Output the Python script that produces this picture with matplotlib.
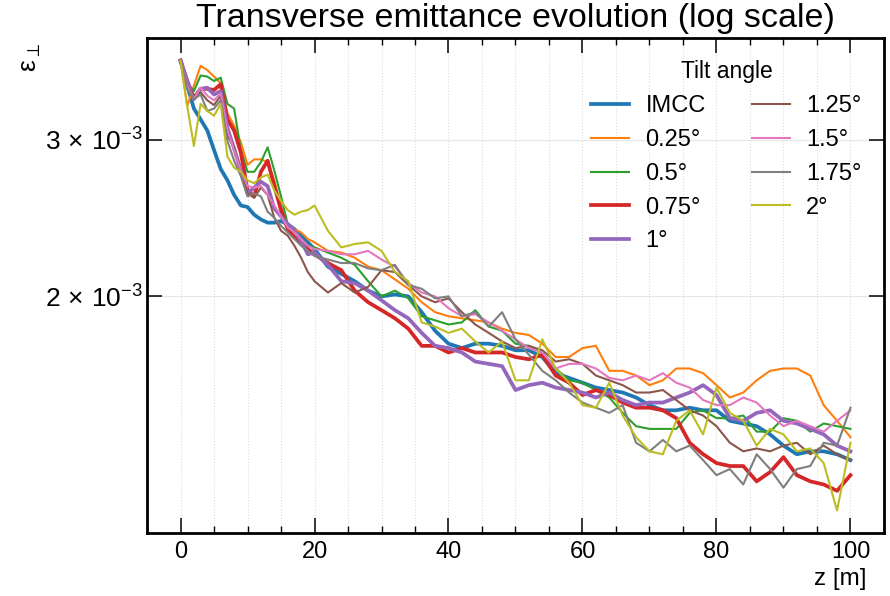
import numpy as np
import matplotlib
matplotlib.use('Agg')
import matplotlib.pyplot as plt
from matplotlib.ticker import FixedLocator, MultipleLocator, NullLocator

# z positions [m]: every metre up to 20, then every 2 m
z = list(range(0, 21)) + list(range(22, 101, 2))

# transverse emittance, in units of 1e-3
imcc = [3.68, 3.45, 3.25, 3.16, 3.07, 2.92, 2.78, 2.70, 2.60, 2.53, 2.52, 2.47, 2.44, 2.42, 2.42, 2.43, 2.41, 2.38, 2.34, 2.30, 2.26,
        2.16, 2.12, 2.08, 2.03, 2.00, 2.01, 2.00, 1.92, 1.83, 1.77,
        1.75, 1.77, 1.77, 1.76, 1.74, 1.74, 1.71, 1.64, 1.62, 1.60,
        1.58, 1.57, 1.56, 1.54, 1.51, 1.49, 1.49, 1.50, 1.49, 1.49,
        1.45, 1.44, 1.43, 1.40, 1.36, 1.33, 1.34, 1.34, 1.33, 1.31]
tilt_025 = [3.68, 3.27, 3.45, 3.63, 3.59, 3.53, 3.47, 3.21, 3.11, 2.98, 2.81, 2.85, 2.85, 2.83, 2.70, 2.52, 2.41, 2.38, 2.36, 2.32, 2.30,
            2.25, 2.24, 2.21, 2.16, 2.14, 2.09, 2.04, 1.97, 1.92, 1.90,
            1.89, 1.88, 1.87, 1.84, 1.82, 1.81, 1.77, 1.71, 1.71, 1.75,
            1.76, 1.65, 1.65, 1.63, 1.59, 1.61, 1.66, 1.66, 1.64, 1.59,
            1.54, 1.56, 1.61, 1.65, 1.66, 1.66, 1.63, 1.51, 1.45, 1.39]
tilt_05 = [3.68, 3.47, 3.40, 3.54, 3.53, 3.49, 3.52, 3.29, 3.25, 2.92, 2.76, 2.76, 2.83, 2.94, 2.77, 2.59, 2.41, 2.36, 2.32, 2.28, 2.27,
           2.24, 2.21, 2.17, 2.08, 2.00, 2.03, 1.99, 1.90, 1.88, 1.86,
           1.87, 1.93, 1.85, 1.83, 1.77, 1.76, 1.73, 1.66, 1.61, 1.60,
           1.57, 1.54, 1.48, 1.43, 1.42, 1.42, 1.42, 1.48, 1.49, 1.46,
           1.46, 1.47, 1.41, 1.41, 1.46, 1.45, 1.41, 1.44, 1.43, 1.42]
tilt_075 = [3.68, 3.49, 3.34, 3.42, 3.42, 3.41, 3.46, 3.16, 3.07, 2.90, 2.63, 2.59, 2.76, 2.84, 2.66, 2.50, 2.38, 2.33, 2.30, 2.26, 2.23,
            2.18, 2.14, 2.03, 1.97, 1.93, 1.89, 1.84, 1.76, 1.76, 1.73,
            1.75, 1.73, 1.73, 1.73, 1.71, 1.70, 1.72, 1.63, 1.60, 1.55,
            1.57, 1.55, 1.52, 1.50, 1.50, 1.49, 1.46, 1.37, 1.33, 1.30,
            1.29, 1.29, 1.24, 1.27, 1.32, 1.26, 1.24, 1.23, 1.21, 1.26]
tilt_1 = [3.68, 3.49, 3.33, 3.42, 3.43, 3.37, 3.40, 3.09, 2.93, 2.77, 2.61, 2.65, 2.69, 2.66, 2.51, 2.46, 2.41, 2.37, 2.31, 2.23, 2.24,
          2.17, 2.08, 2.07, 2.03, 1.98, 1.93, 1.89, 1.82, 1.76, 1.75,
          1.73, 1.69, 1.68, 1.67, 1.57, 1.59, 1.60, 1.58, 1.57, 1.56,
          1.54, 1.56, 1.53, 1.51, 1.52, 1.52, 1.54, 1.56, 1.59, 1.55,
          1.46, 1.45, 1.48, 1.49, 1.45, 1.44, 1.42, 1.40, 1.36, 1.34]
tilt_125 = [3.68, 3.45, 3.36, 3.39, 3.32, 3.28, 3.36, 3.03, 2.94, 2.77, 2.61, 2.58, 2.65, 2.60, 2.45, 2.37, 2.34, 2.28, 2.21, 2.13, 2.08,
            2.02, 2.07, 2.02, 2.05, 2.14, 2.13, 2.06, 2.00, 1.97, 1.99,
            1.92, 1.86, 1.82, 1.78, 1.75, 1.76, 1.74, 1.69, 1.70, 1.68,
            1.63, 1.61, 1.59, 1.56, 1.56, 1.57, 1.53, 1.49, 1.47, 1.43,
            1.37, 1.34, 1.35, 1.34, 1.36, 1.37, 1.33, 1.36, 1.33, 1.31]
tilt_15 = [3.68, 3.45, 3.33, 3.43, 3.36, 3.32, 3.38, 3.07, 2.92, 2.77, 2.66, 2.65, 2.66, 2.60, 2.53, 2.46, 2.39, 2.36, 2.32, 2.28, 2.26,
           2.25, 2.23, 2.23, 2.25, 2.20, 2.16, 2.07, 2.02, 2.00, 1.94,
           1.90, 1.91, 1.87, 1.83, 1.79, 1.75, 1.73, 1.66, 1.68, 1.68,
           1.66, 1.62, 1.61, 1.63, 1.61, 1.64, 1.60, 1.58, 1.53, 1.51,
           1.51, 1.54, 1.52, 1.47, 1.43, 1.45, 1.43, 1.41, 1.45, 1.49]
tilt_175 = [3.68, 3.42, 3.33, 3.37, 3.23, 3.25, 3.32, 2.99, 2.84, 2.73, 2.59, 2.61, 2.59, 2.49, 2.45, 2.40, 2.36, 2.32, 2.28, 2.25, 2.22,
            2.20, 2.18, 2.18, 2.15, 2.14, 2.17, 2.06, 2.04, 1.99, 2.00,
            1.90, 1.92, 1.85, 1.92, 1.79, 1.72, 1.65, 1.61, 1.56, 1.52,
            1.50, 1.48, 1.51, 1.37, 1.34, 1.38, 1.34, 1.36, 1.31, 1.26,
            1.28, 1.23, 1.33, 1.28, 1.22, 1.28, 1.29, 1.37, 1.36, 1.50]
tilt_2 = [3.68, 3.27, 2.95, 3.29, 3.23, 3.19, 3.29, 2.87, 2.79, 2.76, 2.70, 2.68, 2.72, 2.74, 2.63, 2.56, 2.50, 2.47, 2.49, 2.50, 2.53,
          2.37, 2.27, 2.29, 2.30, 2.25, 2.13, 2.08, 1.87, 1.85, 1.82,
          1.84, 1.78, 1.73, 1.78, 1.61, 1.61, 1.79, 1.66, 1.60, 1.51,
          1.50, 1.60, 1.47, 1.39, 1.34, 1.33, 1.45, 1.49, 1.40, 1.58,
          1.48, 1.45, 1.36, 1.42, 1.40, 1.34, 1.35, 1.30, 1.15, 1.37]

labels = ['IMCC', '0.25°', '0.5°', '0.75°', '1°', '1.25°', '1.5°', '1.75°', '2°']
values = [imcc, tilt_025, tilt_05, tilt_075, tilt_1, tilt_125, tilt_15, tilt_175, tilt_2]
colors = ['tab:blue', 'tab:orange', 'tab:green', 'tab:red', 'tab:purple',
          'tab:brown', 'tab:pink', 'tab:gray', 'tab:olive']
thick = ['IMCC', '0.75°', '1°']

plt.rcParams['font.family'] = ['Liberation Sans', 'DejaVu Sans']
plt.rcParams['mathtext.fontset'] = 'custom'
plt.rcParams['mathtext.rm'] = 'Liberation Sans'
plt.rcParams['mathtext.it'] = 'Liberation Sans'
plt.rcParams['mathtext.default'] = 'regular'

fig = plt.figure(figsize=(8.9, 5.96), dpi=100)
ax = fig.add_axes([0.1652, 0.1057, 0.828, 0.8305])

for lab, vals, col in zip(labels, values, colors):
    lw = 2.7 if lab in thick else 1.5
    ax.plot(z, np.array(vals) * 1e-3, color=col, lw=lw, label=lab)

ax.set_yscale('log')
ax.set_xlim(-5, 105)
ax.set_ylim(1.085e-3, 3.9e-3)

ax.xaxis.set_major_locator(MultipleLocator(20))
ax.xaxis.set_minor_locator(MultipleLocator(5))
ax.yaxis.set_major_locator(FixedLocator([2e-3, 3e-3]))
ax.yaxis.set_minor_locator(NullLocator())
ax.set_yticklabels([r'$2\,\times\,10^{-3}$', r'$3\,\times\,10^{-3}$'])

ax.tick_params(which='both', direction='in', top=True, right=True)
ax.tick_params(which='major', length=11, width=1.1)
ax.tick_params(which='minor', length=5, width=1.0)
ax.tick_params(axis='x', labelsize=17, pad=6)
ax.tick_params(axis='y', labelsize=19, pad=3)
for sp in ax.spines.values():
    sp.set_linewidth(2.0)

ax.grid(True, which='both', axis='x', color='#dcdcdc', linestyle=':', linewidth=0.8)
ax.grid(True, which='major', axis='y', color='#e6e6e6', linestyle='-', linewidth=0.8)

ax.set_title('Transverse emittance evolution (log scale)', fontsize=24.5, pad=8)
ax.set_xlabel('z [m]', fontsize=17.5)
ax.xaxis.set_label_coords(0.976, -0.07)
ax.xaxis.label.set_ha('right')
ax.set_ylabel(r'$\epsilon_{\perp}$', fontsize=19)
ax.yaxis.set_label_coords(-0.141, 0.99)
ax.yaxis.label.set_ha('right')

ax.legend(title='Tilt angle', ncol=2, loc='upper right', frameon=False,
          fontsize=17, title_fontsize=16.5, handlelength=1.6, handletextpad=0.7,
          columnspacing=1.95, labelspacing=0.5, borderaxespad=0.55)

plt.savefig('out.png', dpi=100)
